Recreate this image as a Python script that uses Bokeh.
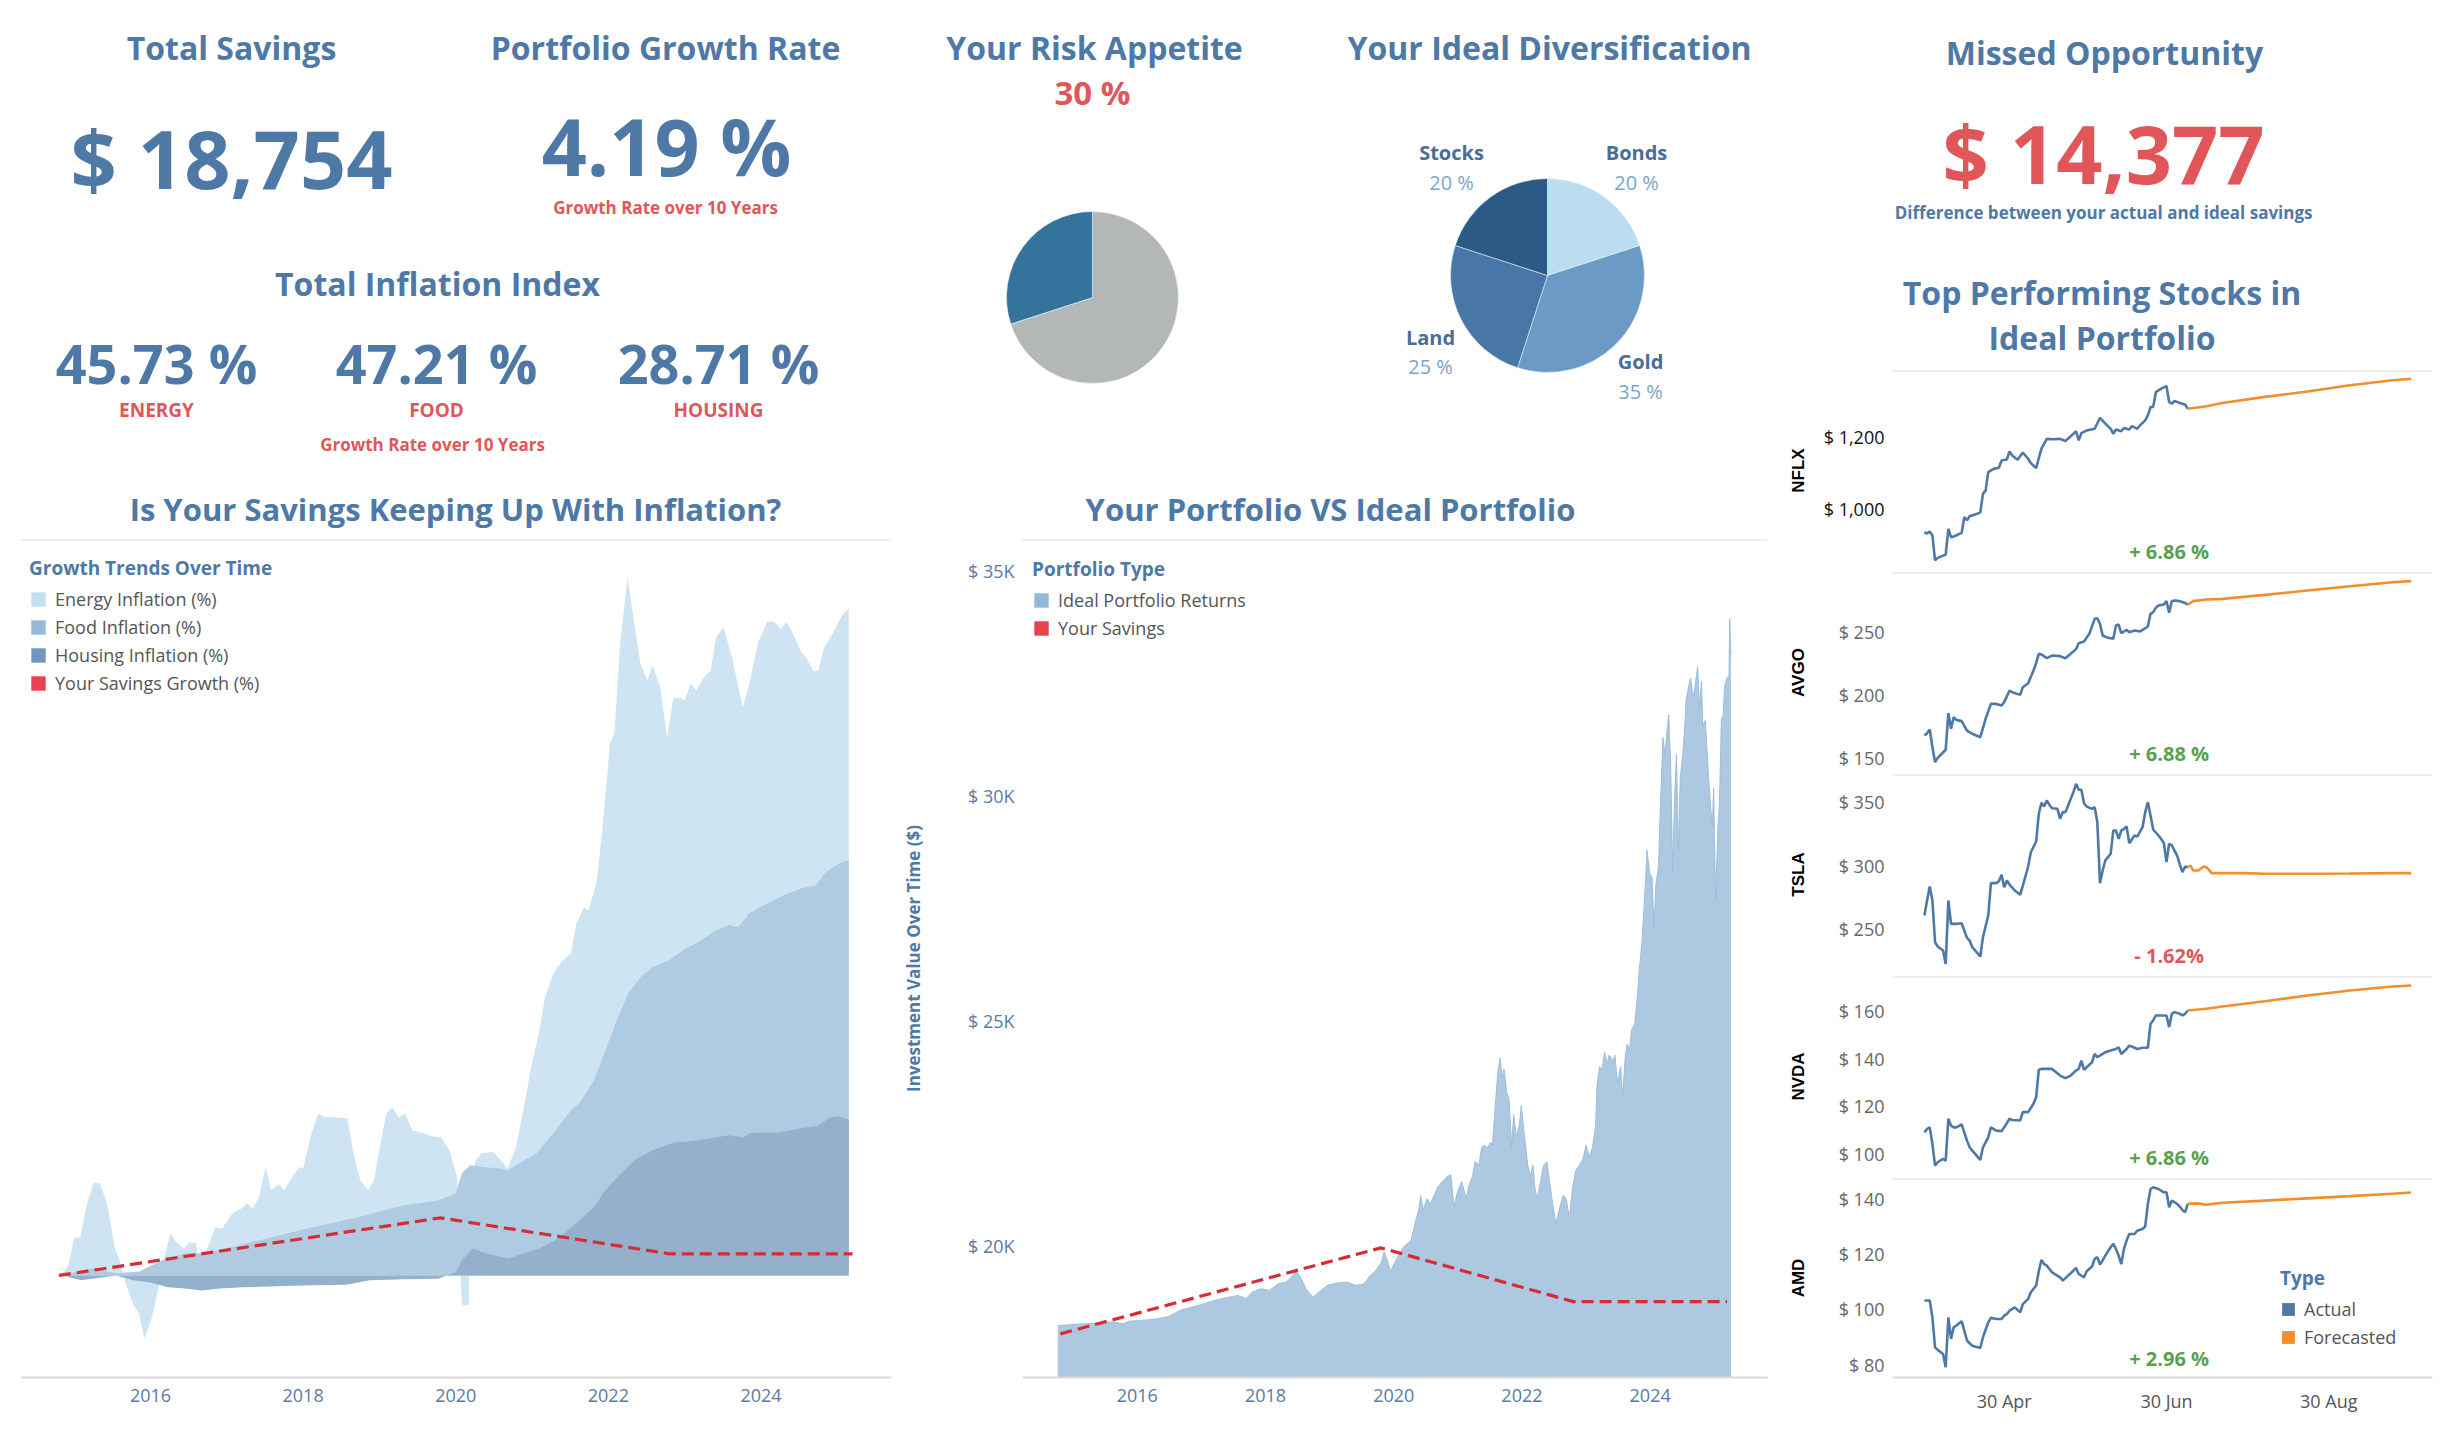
import datetime as dt
import numpy as np
import pandas as pd
from bokeh.plotting import figure
from bokeh.layouts import row, column
from bokeh.models import (Range1d, FixedTicker, Span, Legend, LegendItem, Label,
                          DatetimeTickFormatter)
from bokeh.embed import file_html
from bokeh.resources import INLINE

# ---------------------------------------------------------------- data
total_savings = 18754
portfolio_growth_rate = 4.19
inflation_categories = ["ENERGY", "FOOD", "HOUSING"]
inflation_index = [45.73, 47.21, 28.71]
risk_appetite = 30
diversification_assets = ["Bonds", "Gold", "Land", "Stocks"]
diversification_share = [20, 35, 25, 20]
missed_opportunity = 14377

year_ticks = [2016, 2018, 2020, 2022, 2024]

energy_years = [2014.85, 2014.93, 2015.00, 2015.08, 2015.17, 2015.26, 2015.34, 2015.43, 2015.53, 2015.61,
                2015.66, 2015.77, 2015.85, 2015.92, 2016.02, 2016.09, 2016.17, 2016.26, 2016.34, 2016.44,
                2016.51, 2016.60, 2016.66, 2016.72, 2016.85, 2016.94, 2017.07, 2017.19, 2017.27, 2017.34,
                2017.42, 2017.51, 2017.58, 2017.68, 2017.75, 2017.85, 2017.95, 2018.00, 2018.11, 2018.20,
                2018.28, 2018.42, 2018.58, 2018.66, 2018.75, 2018.85, 2018.93, 2019.02, 2019.09, 2019.17,
                2019.25, 2019.34, 2019.43, 2019.55, 2019.68, 2019.81, 2019.92, 2020.02, 2020.08, 2020.17,
                2020.19, 2020.26, 2020.34, 2020.49, 2020.59, 2020.68, 2020.79, 2020.91, 2020.98, 2021.09,
                2021.17, 2021.28, 2021.40, 2021.51, 2021.58, 2021.68, 2021.74, 2021.85, 2021.92, 2021.98,
                2022.02, 2022.08, 2022.15, 2022.25, 2022.34, 2022.42, 2022.51, 2022.58, 2022.68, 2022.77,
                2022.85, 2022.93, 2023.00, 2023.08, 2023.15, 2023.25, 2023.34, 2023.41, 2023.51, 2023.62,
                2023.76, 2023.85, 2023.96, 2024.08, 2024.17, 2024.26, 2024.34, 2024.44, 2024.53, 2024.60,
                2024.69, 2024.75, 2024.83, 2024.94, 2025.06, 2025.15]
energy_pct = [0, 2.2, 7.0, 7.0, 13.3, 17.1, 16.9, 13.3, 5.2, 2.2,
              -0.9, -5.2, -7.0, -11.6, -7.7, -3.3, 2.8, 7.7, 6.1, 5.0,
              6.1, 5.9, -3.1, 4.1, 8.8, 8.7, 11.4, 12.3, 13.3, 12.3,
              14.4, 19.9, 15.7, 16.8, 15.7, 18.0, 19.9, 19.7, 26.2, 29.8,
              29.1, 29.1, 28.9, 22.5, 17.5, 15.7, 17.5, 24.9, 29.8, 30.9,
              29.1, 29.8, 26.7, 26.3, 25.6, 25.4, 23.0, 18.0, -5.5, -5.5,
              15.1, 21.2, 22.5, 22.7, 21.2, 19.7, 23.6, 32.2, 37.8, 44.6,
              51.2, 55.6, 58.0, 59.3, 64.8, 67.8, 67.2, 72.7, 82.0, 91.2,
              98.0, 99.8, 115.7, 128.5, 120.1, 112.7, 109.6, 112.3, 108.3, 99.1,
              106.3, 106.4, 105.9, 109.0, 107.7, 110.1, 111.4, 117.5, 119.3, 113.8,
              104.6, 109.0, 116.4, 120.4, 120.4, 119.0, 120.3, 117.5, 114.7, 113.6,
              111.2, 111.4, 115.7, 118.2, 121.5, 122.8]

food_years = [2014.85, 2015.02, 2015.25, 2015.55, 2015.85, 2016.15, 2016.45, 2016.68, 2017.06, 2017.58,
              2018.11, 2018.72, 2019.32, 2019.77, 2020.00, 2020.08, 2020.19, 2020.38, 2020.60, 2020.68,
              2020.83, 2021.06, 2021.28, 2021.51, 2021.62, 2021.81, 2021.96, 2022.11, 2022.26, 2022.42,
              2022.57, 2022.79, 2022.98, 2023.17, 2023.40, 2023.58, 2023.70, 2023.85, 2024.08, 2024.30,
              2024.53, 2024.72, 2024.83, 2024.94, 2025.06, 2025.15]
food_pct = [0, 0.6, 1.3, 0.4, 0.7, 2.8, 4.1, 4.1, 5.2, 7.0,
            8.8, 10.7, 12.9, 13.8, 15.1, 18.8, 20.3, 19.9, 19.7, 19.3,
            20.6, 22.5, 26.2, 30.4, 31.7, 35.9, 41.4, 47.0, 51.9, 54.9,
            56.7, 58.0, 59.9, 61.3, 63.5, 64.5, 64.1, 66.7, 68.5, 70.0,
            71.3, 71.8, 74.0, 75.1, 76.1, 76.4]

housing_years = [2014.85, 2015.09, 2015.36, 2015.55, 2015.77, 2016.00, 2016.23, 2016.45, 2016.68, 2016.91,
                 2017.21, 2017.66, 2018.11, 2018.57, 2018.87, 2019.32, 2019.77, 2020.00, 2020.08, 2020.23,
                 2020.38, 2020.68, 2020.91, 2021.13, 2021.36, 2021.58, 2021.81, 2021.96, 2022.11, 2022.34,
                 2022.57, 2022.87, 2023.09, 2023.32, 2023.58, 2023.77, 2023.85, 2024.23, 2024.53, 2024.75,
                 2024.91, 2025.02, 2025.15]
housing_pct = [0, -0.9, -0.4, 0, -0.9, -1.3, -2.2, -2.4, -2.8, -2.4,
               -2.2, -2.0, -1.8, -1.7, -0.9, -0.7, -0.6, 0.6, 2.8, 5.0,
               4.1, 3.1, 4.1, 5.2, 7.0, 9.6, 12.5, 15.7, 18.0, 21.2,
               23.0, 24.5, 24.7, 25.2, 25.8, 25.4, 26.2, 26.3, 27.1, 27.6,
               29.1, 29.3, 28.7]

savings_years = [2014.8, 2019.8, 2022.8, 2025.2]
savings_values = [18037, 19948, 18754, 18754]

ideal_years = [2014.76, 2015.28, 2015.60, 2015.78, 2015.87, 2016.04, 2016.31, 2016.49, 2016.67, 2016.85,
               2017.03, 2017.21, 2017.39, 2017.57, 2017.70, 2017.79, 2017.93, 2018.06, 2018.20, 2018.33,
               2018.42, 2018.48, 2018.56, 2018.63, 2018.74, 2018.83, 2018.96, 2019.09, 2019.27, 2019.41,
               2019.54, 2019.63, 2019.72, 2019.81,
               2019.85, 2019.90, 2019.95, 2020.01, 2020.08, 2020.16, 2020.27, 2020.34, 2020.40, 2020.42,
               2020.46, 2020.52, 2020.57, 2020.63, 2020.68, 2020.76, 2020.84, 2020.89, 2020.94, 2020.99,
               2021.06, 2021.13, 2021.18, 2021.23, 2021.27, 2021.33, 2021.37, 2021.41, 2021.46, 2021.51,
               2021.54, 2021.58, 2021.62, 2021.66, 2021.69, 2021.72, 2021.76, 2021.80, 2021.84, 2021.87,
               2021.91, 2021.96, 2021.99, 2022.04, 2022.09, 2022.13, 2022.17, 2022.20, 2022.24, 2022.29,
               2022.34, 2022.39, 2022.43, 2022.48, 2022.53, 2022.58, 2022.64, 2022.69, 2022.74, 2022.79,
               2022.84, 2022.90, 2022.95, 2023.00, 2023.05, 2023.10, 2023.15, 2023.17, 2023.21, 2023.25,
               2023.29, 2023.33, 2023.36, 2023.42, 2023.45, 2023.49, 2023.54, 2023.57, 2023.61, 2023.64,
               2023.68, 2023.71, 2023.76, 2023.80, 2023.83, 2023.87, 2023.90, 2023.93, 2023.95, 2023.99,
               2024.03, 2024.06, 2024.09, 2024.13, 2024.16, 2024.20, 2024.23, 2024.27, 2024.29, 2024.32,
               2024.35, 2024.38, 2024.41, 2024.44, 2024.47, 2024.51, 2024.54, 2024.56, 2024.60, 2024.63,
               2024.67, 2024.70, 2024.74, 2024.77, 2024.80, 2024.82, 2024.86, 2024.89, 2024.91, 2024.94,
               2024.97, 2024.99, 2025.02, 2025.06, 2025.08, 2025.11, 2025.14, 2025.16, 2025.20, 2025.23,
               2025.24, 2025.26]
ideal_values = [18220, 18270, 18300, 18260, 18320, 18330, 18370, 18420, 18560, 18630,
                18700, 18780, 18840, 18890, 18820, 18960, 19040, 19000, 19150, 19190,
                19330, 19440, 19260, 19040, 18850, 18960, 19110, 19160, 19190, 19110,
                19150, 19330, 19440, 19630,
                19860, 19670, 19420, 19610, 19790, 19980, 20110, 20540, 20860, 21110,
                20790, 21040, 20920, 21110, 21290, 21420, 21540, 21570, 20860, 21170,
                21420, 21040, 21360, 21540, 21860, 21790, 22170, 22230, 22170, 22290,
                22230, 23040, 23790, 24170, 23730, 23920, 23420, 23230, 22170, 22920,
                22420, 22670, 23110, 22420, 21790, 21540, 21790, 21290, 21040, 21420,
                21790, 21860, 21420, 20920, 20480, 20790, 21110, 21040, 20610, 21290,
                21670, 21790, 21920, 22230, 21980, 22170, 22670, 23540, 23980, 23920,
                24290, 24040, 24230, 24110, 24230, 23610, 23980, 23290, 24170, 24480,
                24360, 24790, 24920, 25540, 26110, 26730, 27420, 28170, 28790, 28290,
                28170, 27040, 28040, 28420, 29790, 31290, 30920, 31540, 31790, 30670,
                28290, 29920, 30920, 28790, 30420, 30920, 31540, 32110, 32420, 32610,
                32170, 32420, 32860, 31920, 32540, 31540, 31670, 30920, 30420, 29790,
                29290, 30170, 27670, 29420, 29790, 31670, 31790, 32420, 32610, 32670,
                33920, 33131]
value_ticks = [20000, 25000, 30000, 35000]

stock_names = ["NFLX", "AVGO", "TSLA", "NVDA", "AMD"]
stock_change_pct = [6.86, 6.88, -1.62, 6.86, 2.96]
stock_x_ticks = ["2025-04-30", "2025-06-30", "2025-08-30"]

nflx_dates = ["03-31", "04-01", "04-02", "04-03", "04-04", "04-05", "04-08", "04-09", "04-10", "04-11",
              "04-14", "04-15", "04-16", "04-17", "04-19", "04-21", "04-22", "04-23", "04-24", "04-26",
              "04-28", "04-29", "05-01", "05-02", "05-03", "05-05", "05-07", "05-09", "05-10", "05-12",
              "05-13", "05-14", "05-16", "05-18", "05-21", "05-23", "05-25", "05-27", "05-28", "05-29",
              "05-31", "06-03", "06-05", "06-07", "06-09", "06-10", "06-11", "06-13", "06-14", "06-16",
              "06-17", "06-19", "06-20", "06-22", "06-23", "06-24", "06-25", "06-26", "06-28", "06-30",
              "07-01", "07-02", "07-03", "07-05", "07-07", "07-08"]
nflx_prices = [937, 933, 939, 928, 859, 866, 875, 946, 923, 925,
               935, 979, 970, 981, 986, 991, 1043, 1052, 1103, 1112,
               1115, 1135, 1138, 1160, 1149, 1137, 1157, 1140, 1128, 1114,
               1142, 1168, 1195, 1194, 1195, 1189, 1202, 1216, 1191, 1211,
               1218, 1223, 1253, 1237, 1223, 1209, 1221, 1216, 1225, 1221,
               1230, 1223, 1232, 1246, 1260, 1283, 1283, 1324, 1334, 1341,
               1297, 1292, 1300, 1294, 1290, 1278]
nflx_fc_dates = ["07-08", "07-15", "07-21", "08-06", "08-22", "09-07", "09-23", "09-30"]
nflx_fc_prices = [1278, 1285, 1294, 1311, 1326, 1343, 1357, 1361]
nflx_ticks = [1000, 1200]

avgo_dates = ["03-31", "04-01", "04-02", "04-03", "04-04", "04-05", "04-08", "04-09", "04-10", "04-11",
              "04-12", "04-14", "04-16", "04-18", "04-21", "04-23", "04-25", "04-27", "04-29", "04-30",
              "05-02", "05-03", "05-06", "05-07", "05-09", "05-11", "05-12", "05-13", "05-14", "05-16",
              "05-18", "05-21", "05-23", "05-25", "05-27", "05-28", "05-30", "06-01", "06-03", "06-04",
              "06-05", "06-06", "06-08", "06-10", "06-11", "06-12", "06-13", "06-15", "06-16", "06-18",
              "06-20", "06-23", "06-24", "06-25", "06-26", "06-27", "06-29", "06-30", "07-01", "07-02",
              "07-03", "07-05", "07-07", "07-08"]
avgo_prices = [167.8, 169.6, 172.5, 158.5, 146.5, 150.0, 156.4, 185.5, 173.1, 182.3,
               180.2, 179.2, 171.7, 169.1, 166.4, 181.0, 192.9, 192.9, 191.6, 194.3,
               203.6, 202.2, 200.1, 206.2, 209.4, 219.5, 225.3, 232.8, 232.2, 229.3,
               231.4, 230.9, 229.3, 232.8, 236.5, 241.2, 242.6, 248.7, 260.6, 261.1,
               256.6, 247.3, 245.5, 244.7, 255.3, 256.1, 249.2, 251.9, 250.0, 251.3,
               250.5, 254.5, 264.6, 265.9, 269.4, 271.2, 272.0, 274.7, 265.4, 274.7,
               275.2, 274.7, 273.3, 271.8]
avgo_fc_dates = ["07-08", "07-10", "07-15", "07-21", "08-06", "08-22", "09-07", "09-23", "09-30"]
avgo_fc_prices = [271.8, 274.7, 276.0, 276.5, 279.7, 283.2, 286.6, 289.8, 290.6]
avgo_ticks = [150, 200, 250]

tsla_dates = ["03-31", "04-01", "04-02", "04-03", "04-04", "04-05", "04-07", "04-08", "04-09", "04-10",
              "04-11", "04-12", "04-14", "04-16", "04-17", "04-18", "04-21", "04-22", "04-24", "04-25",
              "04-27", "04-28", "04-29", "04-30", "05-01", "05-02", "05-04", "05-06", "05-07", "05-09",
              "05-10", "05-12", "05-13", "05-14", "05-15", "05-16", "05-17", "05-18", "05-20", "05-21",
              "05-22", "05-23", "05-24", "05-26", "05-27", "05-28", "05-29", "05-30", "05-31", "06-02",
              "06-03", "06-04", "06-05", "06-06", "06-07", "06-09", "06-10", "06-11", "06-12", "06-13",
              "06-14", "06-15", "06-16", "06-18", "06-19", "06-21", "06-22", "06-23", "06-24", "06-25",
              "06-27", "06-28", "06-29", "06-30", "07-01", "07-02", "07-04", "07-05", "07-06", "07-07",
              "07-08"]
tsla_prices = [260.8, 272.6, 283.5, 272.6, 239.9, 236.5, 233.4, 222.9, 272.6, 254.3,
               254.3, 254.3, 254.8, 243.3, 241.2, 236.0, 228.7, 243.8, 260.8, 286.2,
               286.2, 287.7, 292.7, 283.0, 288.2, 285.1, 280.4, 277.0, 284.3, 299.2,
               310.4, 318.8, 340.5, 349.1, 346.2, 350.9, 347.5, 344.9, 344.4, 336.6,
               341.8, 341.8, 347.0, 357.5, 364.0, 359.3, 359.3, 348.8, 346.2, 344.4,
               345.7, 334.0, 286.2, 296.1, 303.9, 309.1, 327.4, 327.4, 320.9, 327.4,
               328.7, 330.6, 317.5, 323.5, 322.7, 330.0, 341.8, 349.6, 339.2, 328.2,
               323.5, 320.9, 317.5, 302.6, 317.0, 315.7, 307.8, 300.8, 294.8, 299.2,
               298.7]
tsla_fc_dates = ["07-08", "07-09", "07-10", "07-12", "07-14", "07-15", "07-17", "07-21", "07-29",
                 "08-06", "08-22", "09-07", "09-23", "09-30"]
tsla_fc_prices = [298.7, 300.0, 296.1, 296.1, 299.2, 298.7, 294.0, 294.0, 294.0,
                  293.5, 293.5, 293.7, 294.0, 294.0]
tsla_ticks = [250, 300, 350]

nvda_dates = ["03-31", "04-01", "04-02", "04-03", "04-04", "04-05", "04-07", "04-08", "04-09", "04-10",
              "04-11", "04-12", "04-14", "04-16", "04-17", "04-18", "04-21", "04-22", "04-24", "04-25",
              "04-27", "04-29", "04-30", "05-02", "05-03", "05-06", "05-07", "05-09", "05-11", "05-12",
              "05-13", "05-14", "05-16", "05-18", "05-21", "05-23", "05-25", "05-27", "05-28", "05-29",
              "05-30", "05-31", "06-02", "06-03", "06-04", "06-06", "06-07", "06-09", "06-11", "06-12",
              "06-13", "06-15", "06-16", "06-18", "06-19", "06-21", "06-23", "06-24", "06-25", "06-26",
              "06-27", "06-29", "06-30", "07-01", "07-02", "07-03", "07-05", "07-06", "07-07", "07-08"]
nvda_prices = [109.0, 110.4, 111.1, 104.1, 95.0, 96.4, 97.8, 97.1, 114.7, 111.8,
               111.1, 111.1, 112.3, 105.5, 102.7, 101.3, 97.4, 102.7, 106.9, 111.1,
               109.7, 109.5, 111.1, 114.7, 114.2, 114.0, 117.5, 117.5, 121.0, 123.8,
               135.3, 135.7, 135.7, 135.7, 132.9, 131.8, 132.9, 135.0, 135.7, 139.2,
               135.3, 136.4, 138.5, 142.0, 140.6, 142.0, 142.7, 143.4, 144.1, 144.8,
               142.0, 144.1, 145.5, 144.6, 144.1, 144.6, 144.6, 154.7, 156.1, 158.2,
               158.2, 158.2, 158.2, 153.3, 158.9, 159.6, 158.9, 158.2, 158.9, 160.3]
nvda_fc_dates = ["07-08", "07-15", "07-21", "08-06", "08-22", "09-07", "09-23", "09-30"]
nvda_fc_prices = [160.3, 161.0, 162.0, 164.2, 166.6, 168.7, 170.4, 170.8]
nvda_ticks = [100, 120, 140, 160]

amd_dates = ["03-31", "04-02", "04-03", "04-04", "04-05", "04-07", "04-08", "04-09", "04-10", "04-11",
             "04-12", "04-14", "04-16", "04-17", "04-18", "04-21", "04-22", "04-24", "04-25", "04-27",
             "04-29", "04-30", "05-01", "05-02", "05-04", "05-06", "05-07", "05-09", "05-10", "05-12",
             "05-13", "05-14", "05-15", "05-16", "05-18", "05-21", "05-22", "05-24", "05-26", "05-27",
             "05-28", "05-30", "05-31", "06-02", "06-03", "06-04", "06-05", "06-06", "06-07", "06-09",
             "06-10", "06-11", "06-12", "06-13", "06-14", "06-15", "06-16", "06-18", "06-19", "06-21",
             "06-22", "06-23", "06-24", "06-25", "06-27", "06-29", "06-30", "07-01", "07-02", "07-03",
             "07-04", "07-05", "07-06", "07-07", "07-08"]
amd_prices = [103.2, 103.2, 97.1, 86.2, 85.3, 83.8, 79.0, 97.1, 89.3, 93.5,
              94.1, 95.7, 88.7, 87.7, 86.8, 86.0, 89.9, 95.3, 96.9, 96.5,
              96.5, 97.7, 98.3, 99.5, 100.7, 98.9, 101.9, 103.8, 106.2, 108.6,
              113.8, 117.9, 116.4, 115.8, 113.4, 111.6, 110.4, 112.2, 114.0, 115.0,
              112.8, 111.6, 113.8, 115.5, 118.3, 118.9, 116.2, 117.7, 119.5, 122.5,
              123.7, 121.9, 119.5, 116.4, 121.9, 124.9, 127.3, 127.3, 128.5, 129.1,
              130.0, 138.2, 143.6, 144.2, 143.6, 142.4, 142.4, 137.0, 139.4, 138.8,
              138.2, 137.2, 136.0, 135.2, 138.2]
amd_fc_dates = ["07-08", "07-11", "07-13", "07-15", "07-21", "08-06", "08-22", "09-07", "09-23", "09-30"]
amd_fc_prices = [138.2, 138.4, 138.2, 137.9, 138.6, 139.4, 140.2, 141.0, 141.9, 142.3]
amd_ticks = [80, 100, 120, 140]

# ---------------------------------------------------------------- style
BLUE = "#4e79a7"
RED = "#e15759"
GREEN = "#59a14f"
ORANGE = "#f28e2b"
AXIS_BLUE = "#5a7aa3"
SEP = "#dadada"
FONT = "Open Sans"


def add_text(p, x, y, text, size, color, bold=True, align="center", font=FONT):
    p.add_layout(Label(x=x, y=y, text=text, text_font=font, text_font_size=f"{size}px",
                       text_font_style="bold" if bold else "normal", text_color=color,
                       text_align=align, text_baseline="middle"))


def clean(p):
    p.grid.visible = False
    p.outline_line_color = None
    p.background_fill_color = "white"
    p.border_fill_color = "white"


def pie(p, cx, cy, r, values, colors):
    frac = np.cumsum([0] + list(values)) / float(sum(values))
    starts = np.pi / 2 - 2 * np.pi * frac[:-1]
    ends = np.pi / 2 - 2 * np.pi * frac[1:]
    p.wedge(x=[cx] * len(values), y=[cy] * len(values), radius=r,
            start_angle=list(starts), end_angle=list(ends), direction="clock",
            fill_color=colors, line_color="white", line_width=0.5)


def swatch(p, x0, y0, color):
    # zero-area quad anchored on a data point: invisible, but gives the legend a filled square
    return p.quad(left=[x0], right=[x0], top=[y0], bottom=[y0], fill_color=color, line_color=None)


def style_legend(lg, title_size=19, label_size=18, glyph=18):
    lg.border_line_color = None
    lg.background_fill_alpha = 0
    lg.title_text_font = FONT
    lg.title_text_font_size = f"{title_size}px"
    lg.title_text_font_style = "bold"
    lg.title_text_color = BLUE
    lg.label_text_font = FONT
    lg.label_text_font_size = f"{label_size}px"
    lg.label_text_color = "#555555"
    lg.glyph_width = glyph
    lg.glyph_height = glyph
    lg.label_height = glyph
    lg.label_standoff = 8
    lg.spacing = 4
    lg.padding = 4
    lg.margin = 0
    lg.title_standoff = 6


def style_xaxis(ax, color, size):
    ax.axis_line_color = SEP
    ax.axis_line_width = 2
    ax.major_tick_line_color = None
    ax.minor_tick_line_color = None
    ax.major_tick_out = 0
    ax.major_tick_in = 0
    ax.minor_tick_out = 0
    ax.major_label_text_font = FONT
    ax.major_label_text_font_size = f"{size}px"
    ax.major_label_text_color = color
    ax.major_label_standoff = 11


# ---------------------------------------------------------------- top band (KPIs + pies + chart titles)
TW, TH = 1785, 537
top = figure(width=TW, height=TH, x_range=Range1d(0, TW), y_range=Range1d(0, TH),
             x_axis_location=None, y_axis_location=None, toolbar_location=None,
             output_backend="svg", min_border=0)
clean(top)

add_text(top, 231, 490, "Total Savings", 32, BLUE)
add_text(top, 231, 380, f"$ {total_savings:,}", 81, BLUE)
add_text(top, 665, 490, "Portfolio Growth Rate", 32, BLUE)
add_text(top, 666, 392, f"{portfolio_growth_rate:.2f} %", 79, BLUE)
add_text(top, 665, 330, "Growth Rate over 10 Years", 17, RED)
add_text(top, 437, 254, "Total Inflation Index", 32, BLUE)
for cx, cat, val in zip([156, 436, 718], inflation_categories, inflation_index):
    add_text(top, cx, 175, f"{val:.2f} %", 54, BLUE)
    add_text(top, cx, 128, cat, 19, RED)
add_text(top, 432, 93, "Growth Rate over 10 Years", 17, RED)

add_text(top, 1094, 490, "Your Risk Appetite", 32, BLUE)
add_text(top, 1092, 445, f"{risk_appetite} %", 33, RED)
pie(top, 1092, 240, 86, [100 - risk_appetite, risk_appetite], ["#b4b7b8", "#33739c"])

add_text(top, 1549, 490, "Your Ideal Diversification", 32, BLUE)
pie(top, 1547, 262, 97, diversification_share, ["#bcdcf0", "#6a9ac5", "#4776a7", "#2c5a87"])
label_spots = {"Bonds": (1636, 385, 355), "Gold": (1640, 176, 146),
               "Land": (1430, 200, 171), "Stocks": (1451, 385, 355)}
for asset, share in zip(diversification_assets, diversification_share):
    lx, ly1, ly2 = label_spots[asset]
    add_text(top, lx, ly1, asset, 20, "#4a6d98")
    add_text(top, lx, ly2, f"{share} %", 20, "#7aa5cb", bold=False)

add_text(top, 455, 29, "Is Your Savings Keeping Up With Inflation?", 31, BLUE)
add_text(top, 1330, 29, "Your Portfolio VS Ideal Portfolio", 31, BLUE)

# ---------------------------------------------------------------- left chart: inflation vs savings
CH = 909
savings_growth = [(v / savings_values[0] - 1) * 100 for v in savings_values]
L_TOP, L_BOT = 135.5, -18.8
pl = figure(width=893, height=CH, x_range=Range1d(2014.31, 2025.71), y_range=Range1d(L_BOT, L_TOP),
            y_axis_location=None, toolbar_location=None, output_backend="svg",
            min_border_left=21, min_border_right=2, min_border_top=2, min_border_bottom=69)
clean(pl)
pl.varea(x=energy_years, y1=0, y2=energy_pct, fill_color="#cfe4f2")
pl.varea(x=food_years, y1=0, y2=food_pct, fill_color="#afcbe2")
pl.varea(x=housing_years, y1=0, y2=housing_pct, fill_color="#93b0cc")
pl.line(savings_years, savings_growth, line_color="#d62d35", line_width=3.2, line_dash="12 6")
pl.xaxis.ticker = FixedTicker(ticks=year_ticks)
pl.xaxis.major_label_overrides = {t: str(t) for t in year_ticks}
style_xaxis(pl.xaxis[0], AXIS_BLUE, 18)
pl.add_layout(Span(location=L_TOP, dimension="width", line_color=SEP, line_width=2))

sw_l = [swatch(pl, savings_years[0], savings_growth[0], c)
        for c in ["#c3dff0", "#94b9d9", "#7196be", "#e8424f"]]
leg_l = Legend(items=[LegendItem(label=t, renderers=[r]) for t, r in zip(
    ["Energy Inflation (%)", "Food Inflation (%)", "Housing Inflation (%)", "Your Savings Growth (%)"],
    sw_l)], title="Growth Trends Over Time", location=(8, 682))
style_legend(leg_l)
pl.add_layout(leg_l)

# ---------------------------------------------------------------- middle chart: portfolio vs ideal
M_TOP, M_BOT = 35689, 17067
pm = figure(width=892, height=CH, x_range=Range1d(2014.21, 2025.83), y_range=Range1d(M_BOT, M_TOP),
            toolbar_location=None, output_backend="svg",
            min_border_left=129, min_border_right=18, min_border_top=2, min_border_bottom=69)
clean(pm)
pm.varea(x=ideal_years, y1=0, y2=ideal_values, fill_color="#adc9e1")
pm.line(ideal_years, ideal_values, line_color="#9cbddb", line_width=1)
pm.line(savings_years, savings_values, line_color="#d62d35", line_width=3.2, line_dash="12 6")
pm.xaxis.ticker = FixedTicker(ticks=year_ticks)
pm.xaxis.major_label_overrides = {t: str(t) for t in year_ticks}
style_xaxis(pm.xaxis[0], AXIS_BLUE, 18)
ya = pm.yaxis[0]
ya.ticker = FixedTicker(ticks=value_ticks)
ya.major_label_overrides = {t: f"$ {t // 1000}K" for t in value_ticks}
ya.axis_line_color = None
ya.major_tick_line_color = None
ya.minor_tick_line_color = None
ya.major_tick_out = 0
ya.major_label_standoff = 8
ya.major_label_text_font = FONT
ya.major_label_text_font_size = "18px"
ya.major_label_text_color = AXIS_BLUE
ya.axis_label = "Investment Value Over Time ($)"
ya.axis_label_text_font = FONT
ya.axis_label_text_font_size = "17px"
ya.axis_label_text_font_style = "bold"
ya.axis_label_text_color = BLUE
ya.axis_label_standoff = 40
pm.add_layout(Span(location=M_TOP, dimension="width", line_color=SEP, line_width=2))

sw_m = [swatch(pm, savings_years[0], savings_values[0], c) for c in ["#93b9d8", "#e8424f"]]
leg_m = Legend(items=[LegendItem(label=t, renderers=[r]) for t, r in zip(
    ["Ideal Portfolio Returns", "Your Savings"], sw_m)], title="Portfolio Type", location=(10, 737))
style_legend(leg_m)
pm.add_layout(leg_m)

# ---------------------------------------------------------------- right column
RW = 665
missed = figure(width=RW, height=368, x_range=Range1d(0, RW), y_range=Range1d(0, 368),
                x_axis_location=None, y_axis_location=None, toolbar_location=None,
                output_backend="svg", min_border=0)
clean(missed)
add_text(missed, 261, 316, "Missed Opportunity", 32, BLUE)
add_text(missed, 260, 216, f"$ {missed_opportunity:,}", 81, RED)
add_text(missed, 260, 156, "Difference between your actual and ideal savings", 17, BLUE)
add_text(missed, 258, 76, "Top Performing Stocks in", 32, BLUE)
add_text(missed, 258, 31, "Ideal Portfolio", 32, BLUE)


def to_dates(mds):
    return pd.to_datetime(["2025-" + m for m in mds])


stock_series = [
    (nflx_dates, nflx_prices, nflx_fc_dates, nflx_fc_prices, nflx_ticks),
    (avgo_dates, avgo_prices, avgo_fc_dates, avgo_fc_prices, avgo_ticks),
    (tsla_dates, tsla_prices, tsla_fc_dates, tsla_fc_prices, tsla_ticks),
    (nvda_dates, nvda_prices, nvda_fc_dates, nvda_fc_prices, nvda_ticks),
    (amd_dates, amd_prices, amd_fc_dates, amd_fc_prices, amd_ticks),
]
stock_ranges = [(831, 1384), (138.3, 297.5), (214.6, 371.3), (90.4, 174.6), (75.3, 147.4)]
panel_heights = [202, 202, 202, 202, 270]
name_standoffs = [13, 28, 28, 28, 28]
tick_colors = ["#111111", "#666666", "#666666", "#666666", "#666666"]

X0 = dt.datetime(2025, 3, 19)
X1 = dt.datetime(2025, 10, 8)
stock_figs = []
for i, (d, pr, fd, fp, ticks) in enumerate(stock_series):
    last = i == len(stock_series) - 1
    lo, hi = stock_ranges[i]
    p = figure(width=RW, height=panel_heights[i], x_axis_type="datetime",
               x_range=Range1d(X0, X1), y_range=Range1d(lo, hi),
               x_axis_location="below" if last else None, toolbar_location=None,
               output_backend="svg", min_border_left=100, min_border_right=18,
               min_border_top=2, min_border_bottom=69 if last else 0)
    clean(p)
    act_x = to_dates(d)
    p.line(act_x, pr, line_color=BLUE, line_width=2.6)
    p.line(to_dates(fd), fp, line_color=ORANGE, line_width=2.6)
    p.add_layout(Span(location=hi, dimension="width", line_color=SEP, line_width=2))
    ax = p.yaxis[0]
    ax.ticker = FixedTicker(ticks=ticks)
    ax.major_label_overrides = {t: f"$ {t:,}" for t in ticks}
    ax.axis_line_color = None
    ax.major_tick_line_color = None
    ax.minor_tick_line_color = None
    ax.major_tick_out = 0
    ax.major_label_standoff = 8
    ax.major_label_text_font = FONT
    ax.major_label_text_font_size = "18px"
    ax.major_label_text_color = tick_colors[i]
    ax.axis_label = stock_names[i]
    ax.axis_label_text_font = "Liberation Sans"
    ax.axis_label_text_font_size = "17px"
    ax.axis_label_text_font_style = "bold"
    ax.axis_label_text_color = "#000000"
    ax.axis_label_standoff = name_standoffs[i]

    chg = stock_change_pct[i]
    chg_text = f"+ {chg:.2f} %" if chg >= 0 else f"- {abs(chg):.2f}%"
    p.add_layout(Label(x=pd.Timestamp("2025-07-01").value / 1e6, y=lo + (hi - lo) * 0.095,
                       text=chg_text, text_font=FONT, text_font_size="20px", text_font_style="bold",
                       text_color=GREEN if chg >= 0 else RED, text_align="center",
                       text_baseline="middle"))
    if last:
        xa = p.xaxis[0]
        xa.ticker = FixedTicker(ticks=[pd.Timestamp(t).value / 1e6 for t in stock_x_ticks])
        xa.formatter = DatetimeTickFormatter(days="%d %b", months="%d %b", years="%d %b")
        style_xaxis(xa, "#555555", 18)
        sw_s = [swatch(p, act_x[0], pr[0], c) for c in [BLUE, ORANGE]]
        leg_s = Legend(items=[LegendItem(label=t, renderers=[r]) for t, r in zip(
            ["Actual", "Forecasted"], sw_s)], title="Type", location=(388, 28))
        style_legend(leg_s, title_size=19, label_size=18, glyph=16)
        p.add_layout(leg_s)
    stock_figs.append(p)

layout = row(column(top, row(pl, pm)), column(missed, *stock_figs))
open("out.html", "w").write(file_html(layout, INLINE, title="Savings Dashboard"))
